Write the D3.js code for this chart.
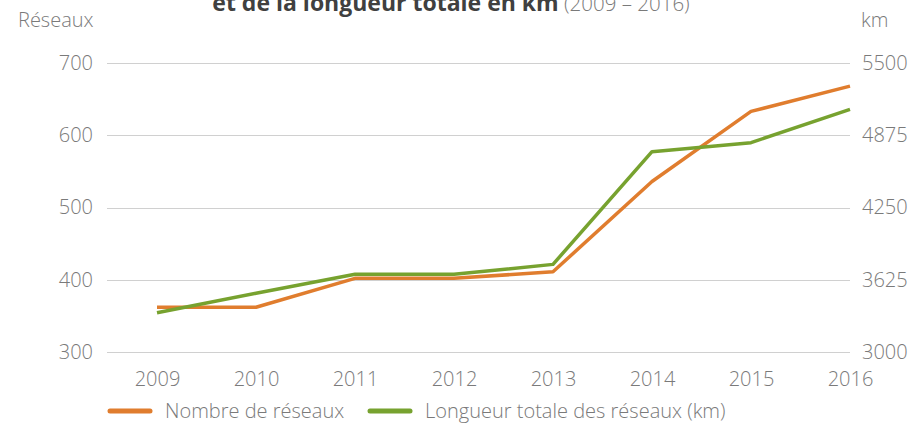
<!DOCTYPE html>
<html>
<head>
<meta charset="utf-8">
<script src="https://cdn.jsdelivr.net/npm/d3@7"></script>
<style>
  body { margin: 0; background: #fff; }
  text { font-family: "Open Sans", sans-serif; }
</style>
</head>
<body>
<script>
// data
const years = ["2009", "2010", "2011", "2012", "2013", "2014", "2015", "2016"];
const reseaux = [362, 362, 402, 402, 411, 536, 633, 668];
const longueurKm = [3340, 3508, 3672, 3672, 3758, 4733, 4811, 5099];
const leftTicks = [300, 400, 500, 600, 700];
const rightTicks = [3000, 3625, 4250, 4875, 5500];

const width = 910, height = 423;
const orange = "#e07d2e", green = "#77a22f", grey = "#7a7a7a";

const svg = d3.select("body").append("svg")
  .attr("width", width)
  .attr("height", height);

const x = d3.scalePoint().domain(years).range([157, 850]);
const yL = d3.scaleLinear().domain([300, 700]).range([352, 63]);
const yR = d3.scaleLinear().domain([3000, 5500]).range([352, 63]);

// title (cut at the top in the source)
const title = svg.append("text")
  .attr("x", 451).attr("y", 11)
  .attr("text-anchor", "middle");
title.append("tspan").text("et de la longueur totale en km")
  .style("font-size", "23px")
  .attr("font-weight", 700).attr("fill", "#404040");
title.append("tspan").text(" (2009 – 2016)")
  .style("font-size", "20.5px")
  .attr("font-weight", 300).attr("fill", grey);

// grid
svg.append("g").selectAll("line")
  .data(leftTicks)
  .join("line")
  .attr("x1", 107).attr("x2", 850)
  .attr("y1", d => Math.round(yL(d)) + 0.5)
  .attr("y2", d => Math.round(yL(d)) + 0.5)
  .attr("stroke", "#d0d0d0")
  .attr("stroke-width", 1);

// axes
const axL = svg.append("g").attr("transform", "translate(107,0)")
  .call(d3.axisLeft(yL).tickValues(leftTicks).tickSize(0).tickPadding(14));
const axR = svg.append("g").attr("transform", "translate(850,0)")
  .call(d3.axisRight(yR).tickValues(rightTicks).tickSize(0).tickPadding(12).tickFormat(d3.format("d")));
const axX = svg.append("g").attr("transform", "translate(0,352)")
  .call(d3.axisBottom(x).tickSize(0).tickPadding(20));

[axL, axR, axX].forEach(g => {
  g.select(".domain").remove();
  g.selectAll("text")
    .attr("fill", grey)
    .style("font-size", "20px")
    .style("font-weight", 300)
    .style("font-family", "'Open Sans', sans-serif");
});

svg.append("text").attr("x", 18).attr("y", 27)
  .attr("fill", grey).style("font-size", "20px").style("font-weight", 300)
  .text("Réseaux");
svg.append("text").attr("x", 861).attr("y", 27)
  .attr("fill", grey).style("font-size", "20px").style("font-weight", 300)
  .text("km");

// lines
const lineL = d3.line().x((d, i) => x(years[i])).y(d => yL(d));
const lineR = d3.line().x((d, i) => x(years[i])).y(d => yR(d));

svg.append("path").datum(reseaux)
  .attr("d", lineL)
  .attr("fill", "none").attr("stroke", orange)
  .attr("stroke-width", 3.5).attr("stroke-linejoin", "round");

svg.append("path").datum(longueurKm)
  .attr("d", lineR)
  .attr("fill", "none").attr("stroke", green)
  .attr("stroke-width", 3.5).attr("stroke-linejoin", "round");

// legend
const legend = [
  {label: "Nombre de réseaux", color: orange, x: 108},
  {label: "Longueur totale des réseaux (km)", color: green, x: 368}
];
const lg = svg.append("g").selectAll("g").data(legend).join("g")
  .attr("transform", d => `translate(${d.x},411)`);
lg.append("line")
  .attr("x1", 2).attr("x2", 42)
  .attr("stroke", d => d.color)
  .attr("stroke-width", 5)
  .attr("stroke-linecap", "round");
lg.append("text")
  .attr("x", 57).attr("y", 7)
  .attr("fill", grey)
  .style("font-size", "20px").style("font-weight", 300)
  .text(d => d.label);
</script>
</body>
</html>
